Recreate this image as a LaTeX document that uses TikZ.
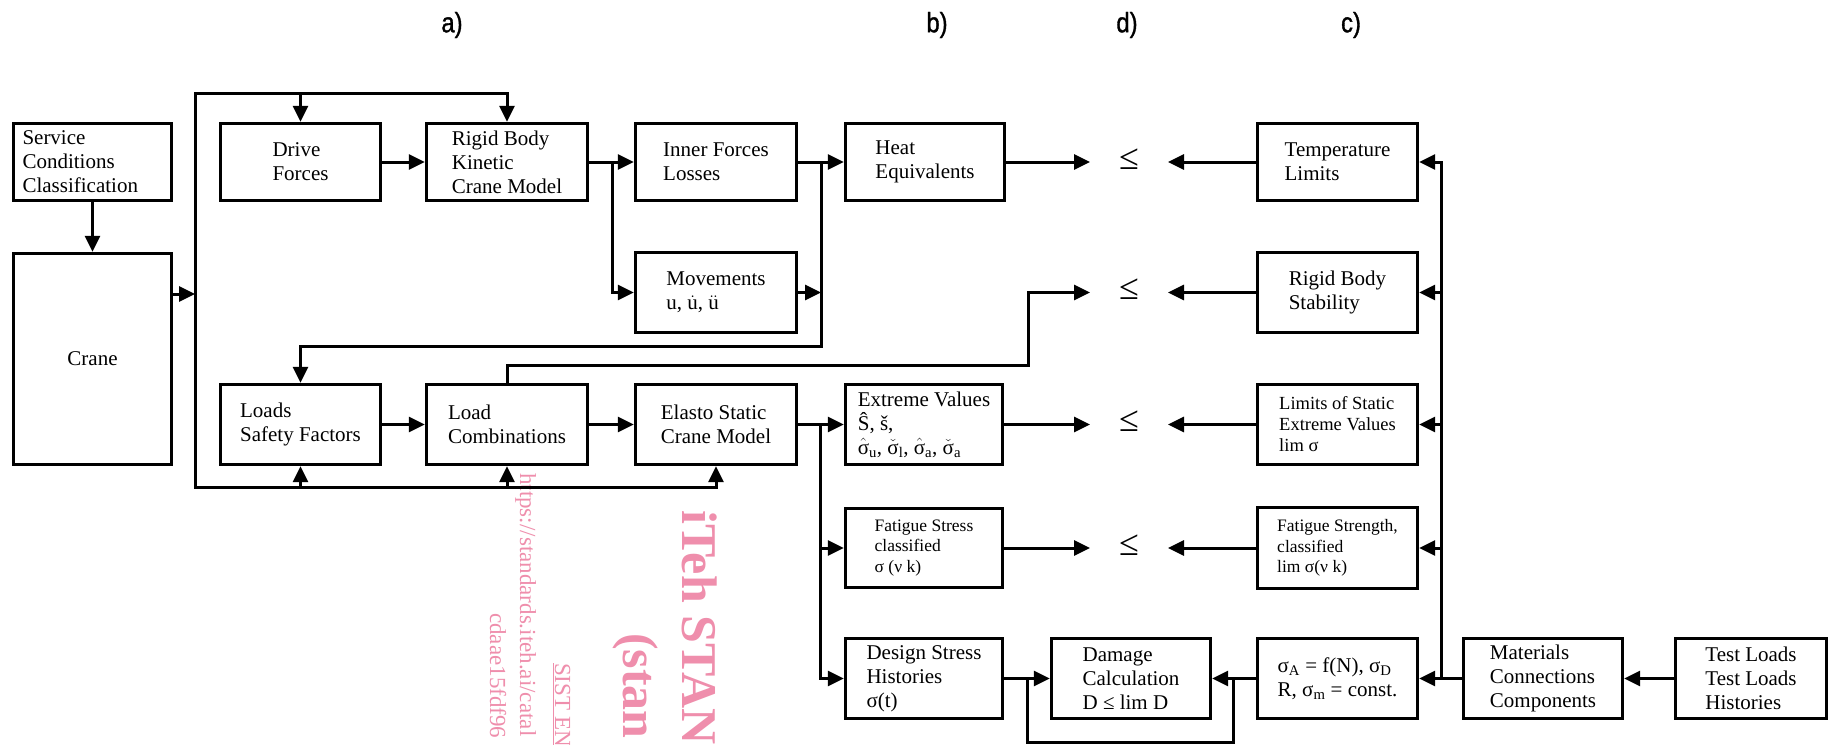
\documentclass[tikz,border=0pt]{standalone}
\usepackage{fontspec}
\setmainfont{Liberation Serif}
\newfontfamily\hdrfont[FakeStretch=0.85,FakeBold=1.2]{Liberation Sans}
\usetikzlibrary{arrows.meta}
\definecolor{wm}{RGB}{239,142,172}
\newcommand\bxfont{\fontsize{21}{24}\selectfont}
\newcommand\smfont{\fontsize{18.5}{21}\selectfont}
\newcommand\smmfont{\fontsize{17.5}{20.5}\selectfont}
\newcommand\lefont{\fontsize{36}{36}\selectfont}
\newcommand\hdfont{\hdrfont\fontsize{28}{28}\selectfont}
\begin{document}
\begin{tikzpicture}[x=1pt,y=-1pt,
  box/.style={draw, line width=3.4pt, align=left, font=\bxfont, inner sep=3pt},
  conn/.style={line width=3pt},
  arr/.style={conn, -{Triangle[length=16pt,width=15pt]}},
  arrb/.style={conn, {Triangle[length=16pt,width=15pt]}-{Triangle[length=16pt,width=15pt]}},
  lesym/.style={font=\lefont, minimum width=78pt, inner sep=0pt, outer sep=0pt},
  hdr/.style={font=\hdfont, inner sep=0pt},
  wmtxt/.style={text=wm, rotate=-90, inner sep=0pt, anchor=base west},
  wmbig/.style={wmtxt, font=\fontsize{50}{50}\selectfont\bfseries},
  wmsmall/.style={wmtxt, font=\fontsize{23}{23}\selectfont}]
\fill[white] (0,0) rectangle (1830,744);
\useasboundingbox (0,0) rectangle (1830,744);

% watermark
\begin{scope}
\clip (0,0) rectangle (1830,744);
\node[wmbig] (wm1) at (682,510) {iTeh STAN};
\node[wmbig] (wm2) at (623,633) {(stan};
\node[wmsmall] (wm3) at (520,473) {https://standards.iteh.ai/catal};
\node[wmsmall] (wm4) at (555,663) {\underline{SIST EN}};
\node[wmsmall] (wm5) at (490,613) {cdaae15fdf96};
\end{scope}

% headers
\node[hdr] (ha) at (452,25) {a)};
\node[hdr] (hb) at (937,25) {b)};
\node[hdr] (hd) at (1127,25) {d)};
\node[hdr] (hc) at (1351,25) {c)};

% boxes
\node[box, minimum width=158pt, minimum height=77pt, text width=140pt] (svc) at (92.5,162) {Service\\Conditions\\Classification};
\node[box, minimum width=158pt, minimum height=211pt] (crane) at (92.5,359) {Crane};
\node[box, minimum width=160pt, minimum height=77pt] (drive) at (300.5,162) {Drive\\Forces};
\node[box, minimum width=161pt, minimum height=77pt] (rigid) at (507,162) {Rigid Body\\Kinetic\\Crane Model};
\node[box, minimum width=161pt, minimum height=77pt] (inner) at (716,162) {Inner Forces\\Losses};
\node[box, minimum width=161pt, minimum height=80pt] (mov) at (716,292.5) {Movements\\u, \(\dot{\mbox{u}}\), \(\ddot{\mbox{u}}\)};
\node[box, minimum width=159pt, minimum height=77pt] (heat) at (925,162) {Heat\\Equivalents};
\node[box, minimum width=160pt, minimum height=77pt] (temp) at (1337.5,162) {Temperature\\Limits};
\node[box, minimum width=160pt, minimum height=80pt] (stab) at (1337.5,292.5) {Rigid Body\\Stability};
\node[box, minimum width=160pt, minimum height=80pt] (loads) at (300.5,424.5) {Loads\\Safety Factors};
\node[box, minimum width=161pt, minimum height=80pt] (lc) at (507,424.5) {Load\\Combinations};
\node[box, minimum width=161pt, minimum height=80pt] (elasto) at (716,424.5) {Elasto Static\\Crane Model};
\node[box, minimum width=157pt, minimum height=80pt] (ext) at (924,424.5) {Extreme Values\\Ŝ, š,\\\(\hat{\mbox{σ}}\)\textsubscript{u}, \(\check{\mbox{σ}}\)\textsubscript{l}, \(\hat{\mbox{σ}}\)\textsubscript{a}, \(\check{\mbox{σ}}\)\textsubscript{a}};
\node[box, minimum width=160pt, minimum height=80pt, font=\smfont] (lims) at (1337.5,424.5) {Limits of Static\\Extreme Values\\lim σ};
\node[box, minimum width=157pt, minimum height=79pt, font=\smmfont] (fat) at (924,548) {Fatigue Stress\\classified\\σ (ν k)};
\node[box, minimum width=160pt, minimum height=81pt, font=\smmfont] (fatl) at (1337.5,548) {Fatigue Strength,\\classified\\lim σ(ν k)};
\node[box, minimum width=157pt, minimum height=80pt] (des) at (924,678.5) {Design Stress\\Histories\\σ(t)};
\node[box, minimum width=159pt, minimum height=80pt] (dam) at (1131,678.5) {Damage\\Calculation\\D ≤ lim D};
\node[box, minimum width=160pt, minimum height=80pt] (sa) at (1337.5,678.5) {σ\textsubscript{A} = f(N), σ\textsubscript{D}\\R, σ\textsubscript{m} = const.};
\node[box, minimum width=159pt, minimum height=80pt] (mat) at (1543,678.5) {Materials\\Connections\\Components};
\node[box, minimum width=151pt, minimum height=80pt] (test) at (1751,678.5) {Test Loads\\Test Loads\\Histories};

% comparison symbols
\node[lesym] (le1) at (1129,159) {≤};
\node[lesym] (le2) at (1129,289.5) {≤};
\node[lesym] (le3) at (1129,421.5) {≤};
\node[lesym] (le4) at (1129,545) {≤};

% coordinates
\coordinate (busT) at (195,93);
\coordinate (busB) at (195,487);
\coordinate (busM) at (195,294);
\coordinate (j1) at (612,162);
\coordinate (j2) at (821,162);
\coordinate (j2b) at (821,346);
\coordinate (j3) at (820,424.5);
\coordinate (k1) at (1028,365);
\coordinate (l1) at (1027,742);
\coordinate (l2) at (1233,742);
\coordinate (rb) at (1441,162);
\coordinate (rbb) at (1441,678.5);

% left part
\draw[arr] (svc) -- (crane);
\draw[arrb] (elasto.south) |- (busB) -- (busT) -| (rigid.north);
\draw[arr] (crane.east |- busM) -- (busM);
\draw[arr] (drive.north |- busT) -- (drive.north);
\draw[arr] (loads.south |- busB) -- (loads.south);
\draw[arr] (lc.south |- busB) -- (lc.south);
\draw[arr] (drive) -- (rigid);
\draw[arr] (rigid) -- (inner);
\draw[arr] (j1) |- (mov.west);
\draw[arr] (inner) -- (heat);
\draw[arr] (mov.east) -- (mov.east -| j2);
\draw[arr] (j2) -- (j2b) -| (loads.north);
\draw[arr] (loads) -- (lc);
\draw[arr] (lc) -- (elasto);
\draw[arr] (elasto) -- (ext);
\draw[arr] (j3) |- (des.west);
\draw[arr] (fat.west -| j3) -- (fat.west);
\draw[arr] (lc.north) |- (k1) |- (le2.west |- stab.west);

% comparisons
\draw[arr] (heat.east) -- (heat.east -| le1.west);
\draw[arr] (temp.west) -- (temp.west -| le1.east);
\draw[arr] (stab.west) -- (stab.west -| le2.east);
\draw[arr] (ext.east) -- (ext.east -| le3.west);
\draw[arr] (lims.west) -- (lims.west -| le3.east);
\draw[arr] (fat.east) -- (fat.east -| le4.west);
\draw[arr] (fatl.west) -- (fatl.west -| le4.east);

% damage
\draw[arr] (des) -- (dam);
\draw[arr] (sa) -- (dam);
\draw[conn] (l1 |- des.east) -- (l1) -- (l2) -- (l2 |- sa.west);

% right bus
\draw[arr] (rbb) |- (temp.east);
\draw[arr] (stab.east -| rb) -- (stab.east);
\draw[arr] (lims.east -| rb) -- (lims.east);
\draw[arr] (fatl.east -| rb) -- (fatl.east);
\draw[arr] (mat) -- (sa);
\draw[arr] (test) -- (mat);
\end{tikzpicture}
\end{document}
